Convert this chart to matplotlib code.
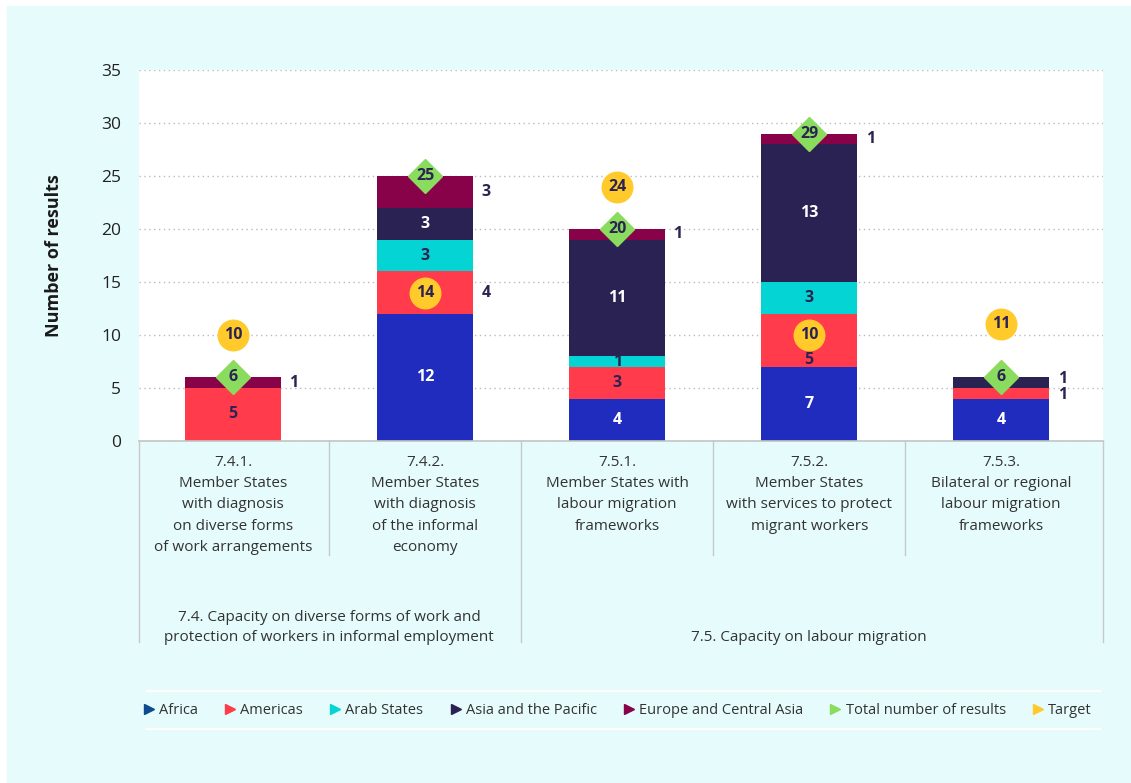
import numpy as np
import matplotlib.pyplot as plt
from matplotlib.lines import Line2D
from matplotlib.transforms import blended_transform_factory

plt.rcParams['font.family'] = ['Open Sans', 'DejaVu Sans']

# indicators and regional breakdown of results
indicators = [
    "7.4.1.\nMember States\nwith diagnosis\non diverse forms\nof work arrangements",
    "7.4.2.\nMember States\nwith diagnosis\nof the informal\neconomy",
    "7.5.1.\nMember States with\nlabour migration\nframeworks",
    "7.5.2.\nMember States\nwith services to protect\nmigrant workers",
    "7.5.3.\nBilateral or regional\nlabour migration\nframeworks",
]
outcomes = [
    "7.4. Capacity on diverse forms of work and\nprotection of workers in informal employment",
    "7.5. Capacity on labour migration",
]
regions = ["Africa", "Americas", "Arab States", "Asia and the Pacific",
           "Europe and Central Asia"]
africa = [0, 12, 4, 7, 4]
americas = [5, 4, 3, 5, 1]
arab_states = [0, 3, 1, 3, 0]
asia_pacific = [0, 3, 11, 13, 1]
europe_central_asia = [1, 3, 1, 1, 0]
total_results = [6, 25, 20, 29, 6]
targets = [10, 14, 24, 10, 11]

colors = ["#1F2CBE", "#FF3B4C", "#05D4D4", "#2A2253", "#88024A"]
legend_colors = ["#0D4A8E", "#FF3B4C", "#05D4D4", "#2A2253", "#88024A"]
label_colors = ["white", "#2B2452", "#2B2452", "white", "#2B2452"]
green = "#8ADC5E"
yellow = "#FFCA2A"
navy = "#2B2452"
bg = "#E6FBFB"

# (series, bar) pairs written beside the bar, and small vertical nudges in points
outside = {(1, 1), (4, 0), (4, 1), (4, 2), (4, 3), (1, 4), (3, 4)}
nudge = {(1, 3): -14, (1, 4): -1, (3, 4): 3}

fig = plt.figure(figsize=(11.31, 7.83), dpi=100)
fig.patch.set_facecolor("white")
fig.add_artist(plt.Rectangle((7 / 1131, 0), 1, 1 - 6 / 783,
                             transform=fig.transFigure, color=bg, zorder=0))

ax = fig.add_axes([139 / 1131, 1 - 441 / 783, (1103 - 139) / 1131, (441 - 70) / 783])
ax.set_facecolor("white")

x = np.arange(len(indicators))
series = [africa, americas, arab_states, asia_pacific, europe_central_asia]
bottom = np.zeros(len(x))
width = 0.5
for i, vals in enumerate(series):
    vals = np.array(vals)
    ax.bar(x, vals, width, bottom=bottom, color=colors[i], zorder=2)
    for j, v in enumerate(vals):
        if v == 0:
            continue
        yc = bottom[j] + v / 2
        dy = nudge.get((i, j), 0)
        if (i, j) in outside:
            ax.annotate(str(v), (x[j] + width / 2, yc), xytext=(6, dy),
                        textcoords="offset points", ha="left", va="center",
                        fontsize=11.5, fontweight="bold", color=navy, zorder=5)
        else:
            ax.annotate(str(v), (x[j], yc), xytext=(0, dy),
                        textcoords="offset points", ha="center", va="center",
                        fontsize=11.5, fontweight="bold", color=label_colors[i],
                        zorder=5)
    bottom += vals

# total and target markers
ax.plot(x, total_results, linestyle="none", marker="D", markersize=17,
        color=green, zorder=3)
ax.plot(x, targets, linestyle="none", marker="o", markersize=22,
        color=yellow, zorder=3)
for j in range(len(x)):
    ax.text(x[j], total_results[j], str(total_results[j]), ha="center",
            va="center", fontsize=11.5, fontweight="bold", color=navy, zorder=6)
    ax.text(x[j], targets[j], str(targets[j]), ha="center", va="center",
            fontsize=11.5, fontweight="bold", color=navy, zorder=6)

ax.set_xlim(-0.49, 4.53)
ax.set_ylim(0, 35)
ax.set_yticks(range(0, 36, 5))
ax.tick_params(axis="y", length=0, labelsize=12.5, labelcolor="#222222", pad=13)
ax.set_xticks([])
ax.grid(axis="y", color="#BBBBBB", linestyle=(0, (1, 2.5)), linewidth=1, zorder=1)
for side in ["top", "right", "left"]:
    ax.spines[side].set_visible(False)
ax.spines["bottom"].set_color("#C4C4C4")
ax.spines["bottom"].set_linewidth(1.2)
ax.set_ylabel("Number of results", fontsize=13, fontweight="bold",
              color="#1A1A1A", labelpad=27)

# category table under the axis
trans = blended_transform_factory(ax.transData, ax.transAxes)
for xb, low in [(-0.49, -0.542), (0.5, -0.307), (1.5, -0.542),
                (2.5, -0.307), (3.5, -0.307), (4.53, -0.542)]:
    ax.add_line(Line2D([xb, xb], [0, low], transform=trans, color="#C8C8C8",
                       linewidth=1, clip_on=False))
for j, lab in enumerate(indicators):
    ax.text(x[j], -0.038, lab, transform=trans, ha="center", va="top",
            fontsize=11, color="#333333", linespacing=1.56)
ax.text(0.5, -0.55, outcomes[0], transform=trans, ha="center", va="bottom",
        fontsize=11, color="#333333", linespacing=1.5)
ax.text(3.0, -0.55, outcomes[1], transform=trans, ha="center", va="bottom",
        fontsize=11, color="#333333")

# legend
handles = [Line2D([], [], linestyle="none", marker=">", markersize=7,
                  color=c) for c in legend_colors]
handles += [Line2D([], [], linestyle="none", marker=">", markersize=7, color=green),
            Line2D([], [], linestyle="none", marker=">", markersize=7, color=yellow)]
labels = regions + ["Total number of results", "Target"]
fig.legend(handles, labels, loc="center", ncol=7, frameon=False,
           bbox_to_anchor=(617 / 1131, 1 - 711 / 783), fontsize=10.5,
           handletextpad=0.25, columnspacing=1.75, handlelength=0.9,
           labelcolor="#333333")
for yl in [691, 729]:
    fig.add_artist(Line2D([147 / 1131, 1100 / 1131], [1 - yl / 783] * 2,
                          transform=fig.transFigure, color="white", linewidth=1.5))

fig.savefig("out.png", dpi=100, facecolor=fig.get_facecolor())
